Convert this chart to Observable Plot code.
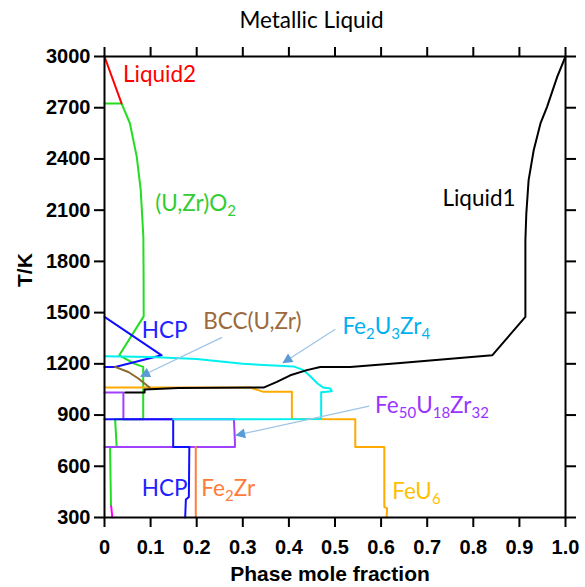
<!DOCTYPE html>
<html><head><meta charset="utf-8">
<script src="https://cdn.jsdelivr.net/npm/d3@7"></script>
<script src="https://cdn.jsdelivr.net/npm/@observablehq/plot@0.6"></script>
<style>body{margin:0;background:#fff;}</style>
</head><body><div id="chart"></div>
<script>
// ---- data: [phase mole fraction, T/K] ----
const liquid2 = [[0,3000],[0.037,2725]];
const uzro2 = [[0,2725],[0.037,2725],[0.055,2609],[0.070,2412],[0.0786,2217],[0.0843,1943],[0.0848,1700],[0.085,1478],[0.032,1250],[0.066,1200],[0.084,1182],[0.084,875],[0.023,875],[0.0265,713],[0.012,713],[0.0141,366]];
const magentaPhase = [[0.0145,366],[0.017,300]];
const feU6 = [[0,1061],[0.316,1061],[0.345,1036],[0.4065,1036],[0.4065,877],[0.544,875],[0.544,713],[0.607,713],[0.607,362],[0.613,354],[0.612,300]];
const fe50 = [[0,1032],[0.041,1032],[0.041,875],[0.281,875],[0.281,860],[0.283,740],[0.283,713],[0,713]];
const hcpHigh = [[0,1475],[0.124,1250],[0.023,1182],[0,1182]];
const hcpLow = [[0,875],[0.149,875],[0.149,713],[0.184,713],[0.183,420],[0.1765,405],[0.175,300]];
const fe2u3zr4 = [[0,1245],[0.1,1240],[0.2,1228],[0.3,1200],[0.41,1185],[0.432,1163],[0.448,1123],[0.462,1085],[0.474,1062],[0.49,1055],[0.493,1040],[0.47,1034],[0.47,877],[0.149,875]];
const bcc = [[0.0228,1182],[0.0518,1152],[0.0734,1114],[0.0916,1075],[0.098,1061]];
const fe2zr = [[0.198,713],[0.198,300]];
const liquid1 = [[1,3000],[0.982,2881],[0.960,2705],[0.9457,2608],[0.931,2451],[0.920,2276],[0.915,2080],[0.913,1925],[0.913,1475],[0.841,1250],[0.642,1205],[0.533,1182],[0.468,1182],[0.439,1163],[0.403,1133],[0.374,1094],[0.345,1061],[0.16,1058],[0.087,1050],[0.087,1032],[0.045,1032]];

const xTicks = [0,0.1,0.2,0.3,0.4,0.5,0.6,0.7,0.8,0.9,1.0];
const xTickLabels = ["0","0.1","0.2","0.3","0.4","0.5","0.6","0.7","0.8","0.9","1.0"];
const yTicks = [300,600,900,1200,1500,1800,2100,2400,2700,3000];
const yTickLabels = ["300","600","900","1200","1500","1800","2100","2400","2700","3000"];

// ---- annotations (data coordinates) ----
const labels = [
  {text:"Liquid2", x:0.040, y:2890, color:"#ff0000"},
  {text:"(U,Zr)O_2", x:0.110, y:2135, color:"#33cc33"},
  {text:"Liquid1", x:0.733, y:2164, color:"#000000"},
  {text:"HCP", x:0.081, y:1392, color:"#2222ff"},
  {text:"BCC(U,Zr)", x:0.214, y:1444, color:"#9c6a3c"},
  {text:"Fe_2U_3Zr_4", x:0.516, y:1415, color:"#00b0f0"},
  {text:"Fe_50U_18Zr_32", x:0.587, y:952, color:"#9933ff"},
  {text:"HCP", x:0.081, y:466, color:"#2222ff"},
  {text:"Fe_2Zr", x:0.210, y:466, color:"#ff7b3a"},
  {text:"FeU_6", x:0.624, y:449, color:"#ffc000"}
];
const arrows = [
  {x1:0.255, y1:1355, x2:0.079, y2:1127},
  {x1:0.5005, y1:1403, x2:0.3876, y2:1207},
  {x1:0.574, y1:952, x2:0.2855, y2:782}
];

const tickFont = {fontFamily:"Liberation Sans", fontWeight:"bold", fontSize:20};
const annFont = "Lato";
const annSize = 22.5;

const chart = Plot.plot({
  width: 585, height: 587,
  marginLeft: 104, marginRight: 20, marginTop: 56, marginBottom: 70,
  x: {domain:[0,1]},
  y: {domain:[300,3000]},
  style: {background:"#fff", color:"#000"},
  marks: [
    Plot.line(uzro2, {stroke:"#22dd22", strokeWidth:2}),
    Plot.line(magentaPhase, {stroke:"#ff00ff", strokeWidth:2}),
    Plot.line(feU6, {stroke:"#ffaa00", strokeWidth:2}),
    Plot.line(fe50, {stroke:"#a040ff", strokeWidth:2}),
    Plot.line(hcpLow, {stroke:"#1010ff", strokeWidth:2}),
    Plot.line(hcpHigh, {stroke:"#1010ff", strokeWidth:2}),
    Plot.line(fe2u3zr4, {stroke:"#00f0f0", strokeWidth:2}),
    Plot.line(bcc, {stroke:"#8b6a2a", strokeWidth:2}),
    Plot.line(fe2zr, {stroke:"#ff7f40", strokeWidth:2}),
    Plot.line(liquid1, {stroke:"#000", strokeWidth:2}),
    Plot.line(liquid2, {stroke:"#ff0000", strokeWidth:2}),
    Plot.link(arrows, {x1:"x1", y1:"y1", x2:"x2", y2:"y2", stroke:"#9dc3e6", strokeWidth:1.2}),
    Plot.text(labels, {x:"x", y:"y", text:"text", fill:"color", textAnchor:"start", fontFamily:annFont, fontSize:annSize}),
    Plot.frame({stroke:"#000", strokeWidth:2}),
    Plot.axisX({anchor:"bottom", ticks:xTicks, tickFormat:(d,i)=>xTickLabels[i], tickSize:10, tickPadding:12, strokeWidth:2, label:null, ...tickFont}),
    Plot.axisX({anchor:"top", ticks:xTicks, tickFormat:()=>"", tickSize:10, strokeWidth:2, label:null}),
    Plot.axisY({anchor:"left", ticks:yTicks, tickFormat:(d,i)=>yTickLabels[i], tickSize:10, tickPadding:4, strokeWidth:2, label:null, ...tickFont}),
    Plot.axisY({anchor:"right", ticks:yTicks, tickFormat:()=>"", tickSize:10, strokeWidth:2, label:null}),
    Plot.text(["T/K"], {frameAnchor:"left", dx:-79, rotate:-90, fontFamily:"Liberation Sans", fontWeight:"bold", fontSize:21}),
    Plot.text(["Phase mole fraction"], {frameAnchor:"bottom", dx:-5, dy:57, lineAnchor:"middle", fontFamily:"Liberation Sans", fontWeight:"bold", fontSize:21}),
    Plot.text(["Metallic Liquid"], {frameAnchor:"top-left", dx:207, dy:-36, textAnchor:"middle", lineAnchor:"middle", fontFamily:annFont, fontSize:annSize})
  ]
});
document.getElementById("chart").appendChild(chart);

// subscripts
const NS = "http://www.w3.org/2000/svg";
chart.querySelectorAll("text").forEach(t => {
  const s = t.textContent;
  if (!s.includes("_")) return;
  t.textContent = "";
  const parts = s.split(/_(\d+)/);
  let shifted = false;
  parts.forEach((p, i) => {
    if (!p) return;
    const ts = document.createElementNS(NS, "tspan");
    ts.textContent = p;
    if (i % 2) { ts.setAttribute("font-size", "15"); ts.setAttribute("dy", shifted ? "0" : "5"); shifted = true; }
    else if (shifted) { ts.setAttribute("dy", "-5"); shifted = false; }
    t.appendChild(ts);
  });
});
// arrowheads
const defs = document.createElementNS(NS, "defs");
defs.innerHTML = '<marker id="ahead" viewBox="0 0 10 10" refX="9" refY="5" markerUnits="userSpaceOnUse" markerWidth="12" markerHeight="10" orient="auto"><path d="M0,0L10,5L0,10z" fill="#5b9bd5"/></marker>';
chart.insertBefore(defs, chart.firstChild);
chart.querySelectorAll('g[aria-label="link"] path').forEach(p => p.setAttribute("marker-end", "url(#ahead)"));
</script>
</body></html>
